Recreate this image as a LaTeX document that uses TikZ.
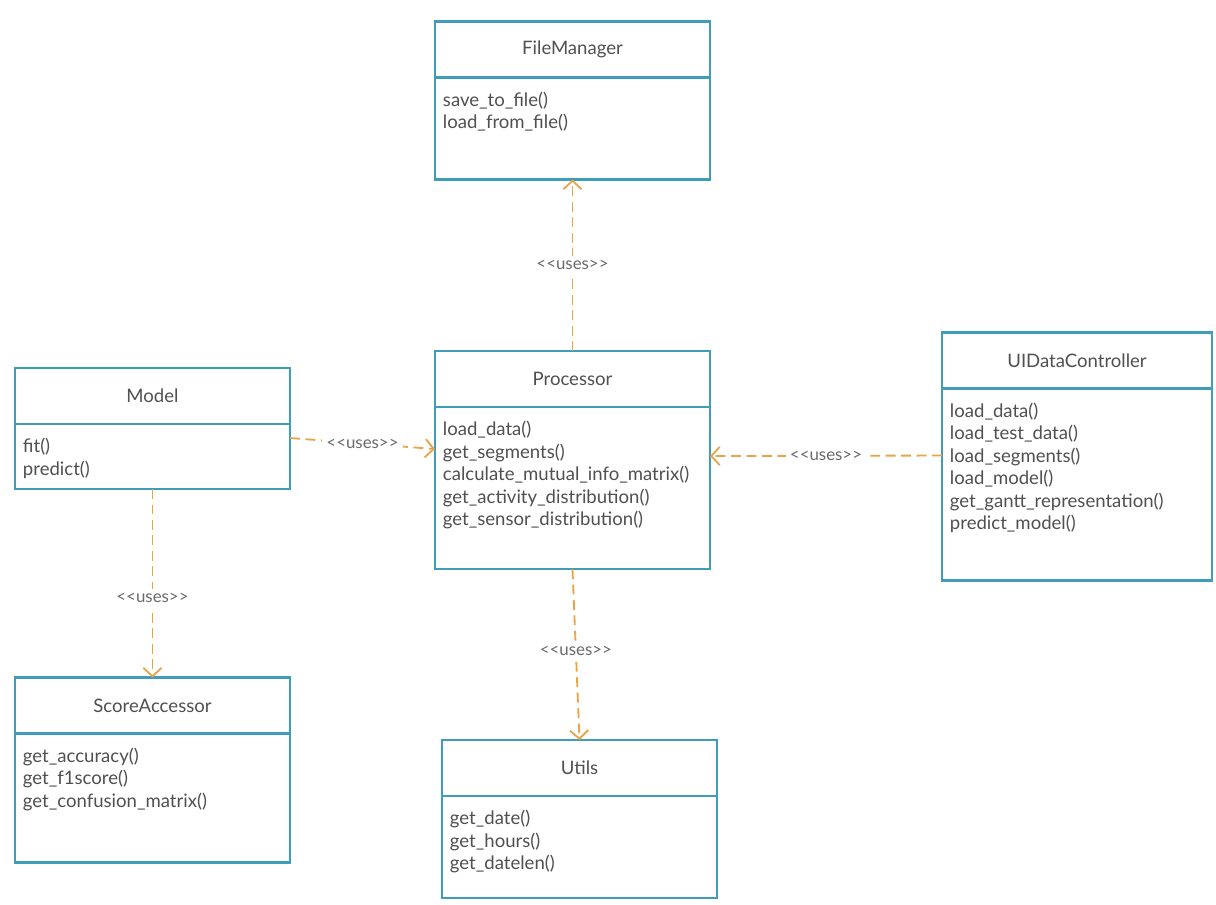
\documentclass[tikz,border=0pt]{standalone}
\usepackage{fontspec}
\setmainfont{Lato}
\usetikzlibrary{positioning,arrows.meta}
\definecolor{umlBorder}{HTML}{3F9CBA}
\definecolor{umlText}{HTML}{505050}
\definecolor{umlArrow}{HTML}{E9A448}
\definecolor{umlLabel}{HTML}{6A6A6A}

\newcommand{\methods}[2]{\parbox[t][#1][t]{\linewidth}{#2}}
\newcommand{\useslabel}{\textless\kern0pt\textless uses\textgreater\kern0pt\textgreater}

\begin{document}
\begin{tikzpicture}[
    x=0.025cm, y=-0.025cm,
    head/.style={draw=umlBorder, line width=1.7pt, fill=white, outer sep=0pt, minimum width=6.875cm, minimum height=1.4cm, text=umlText, font=\fontsize{13.2}{16}\selectfont},
    body/.style={draw=umlBorder, line width=1.7pt, fill=white, outer sep=0pt, text width=6.475cm, align=left, inner xsep=0.2cm, inner ysep=0.33cm, text=umlText, font=\fontsize{13.2}{16}\selectfont},
    uses/.style={draw=umlArrow, line width=1.3pt, dash pattern=on 7pt off 4pt, -{Straight Barb[length=6pt,width=13pt]}},
    usel/.style={fill=white, text=umlLabel, font=\fontsize{12}{14}\selectfont, inner sep=3pt}
]
    \useasboundingbox (0,0) rectangle (1216,904);

    % classes
    \node[head] (fm) at (572.5,49.5) {FileManager};
    \node[body, below=0pt of fm] (fmb) {\methods{1.89cm}{\strut save\_to\_file()\\load\_from\_file()}};

    \node[head] (proc) at (572.5,379) {Processor};
    \node[body, below=0pt of proc] (procb) {\methods{3.39cm}{\strut load\_data()\\get\_segments()\\calculate\_mutual\_info\_matrix()\\get\_activity\_distribution()\\get\_sensor\_distribution()}};

    \node[head] (model) at (152.5,396) {Model};
    \node[body, below=0pt of model] (modelb) {\methods{0.965cm}{\strut fit()\\predict()}};

    \node[head, minimum width=6.75cm] (ui) at (1077,360.5) {UIDataController};
    \node[body, text width=6.35cm, below=0pt of ui] (uib) {\methods{4.14cm}{\strut load\_data()\\load\_test\_data()\\load\_segments()\\load\_model()\\get\_gantt\_representation()\\predict\_model()}};

    \node[head] (sa) at (152.5,705.5) {ScoreAccessor};
    \node[body, below=0pt of sa] (sab) {\methods{2.565cm}{\strut get\_accuracy()\\get\_f1score()\\get\_confusion\_matrix()}};

    \node[head] (utils) at (579.5,768) {Utils};
    \node[body, below=0pt of utils] (utilsb) {\methods{1.89cm}{\strut get\_date()\\get\_hours()\\get\_datelen()}};

    % dependencies
    \draw[uses] (proc.north) -- node[usel] {\useslabel} (fmb.south);
    \draw[uses] ([yshift=-0.35cm]modelb.north east) -- node[usel] {\useslabel} ([yshift=-1.05cm]procb.north west);
    \draw[uses] ([yshift=-1.675cm]uib.north west) -- node[usel] {\useslabel} ([yshift=-1.225cm]procb.north east);
    \draw[uses] (modelb.south) -- node[usel, pos=0.58] {\useslabel} (sa.north);
    \draw[uses] (procb.south) -- node[usel, pos=0.48] {\useslabel} (utils.north);
\end{tikzpicture}
\end{document}
